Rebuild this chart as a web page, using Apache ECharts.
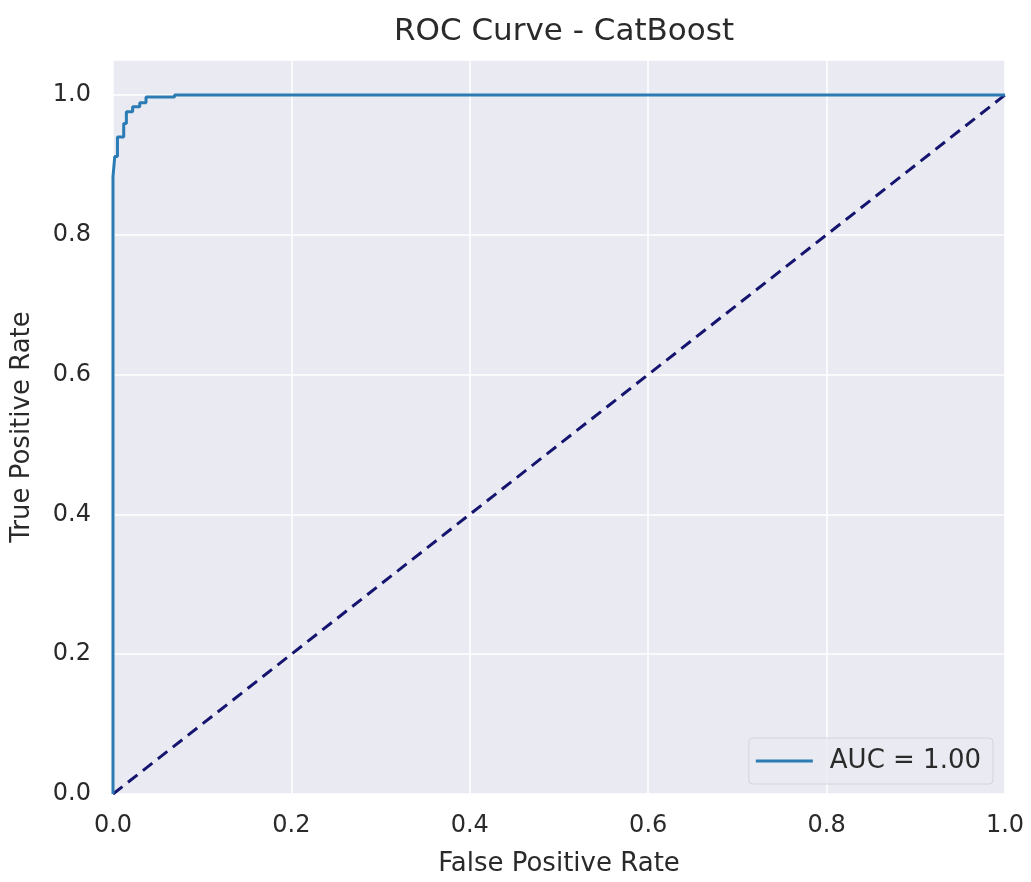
<!DOCTYPE html>
<html>
<head>
<meta charset="utf-8">
<script src="https://cdn.jsdelivr.net/npm/echarts@6/dist/echarts.min.js"></script>
<style>
  html, body { margin: 0; padding: 0; background: #fff; }
  #chart { width: 1031px; height: 882px; }
</style>
</head>
<body>
<div id="chart"></div>
<script>
// ROC points
var fpr = [0.000, 0.000, 0.002, 0.002, 0.005, 0.005, 0.009, 0.012, 0.012, 0.015, 0.015, 0.022, 0.022, 0.030, 0.030, 0.037, 0.037, 0.069, 0.069, 1.000];
var tpr = [0.000, 0.883, 0.883, 0.912, 0.912, 0.940, 0.940, 0.940, 0.959, 0.959, 0.976, 0.976, 0.983, 0.983, 0.989, 0.989, 0.997, 0.997, 1.000, 1.000];
var chanceX = [0, 1];
var chanceY = [0, 1];

var font = 'DejaVu Sans';
var ink = '#2a2a2a';

var chart = echarts.init(document.getElementById('chart'));
chart.setOption({
    backgroundColor: '#ffffff',
    animation: false,
    title: {
        text: 'ROC Curve - CatBoost',
        left: 559,
        top: 11,
        textAlign: 'center',
        textStyle: { fontFamily: font, fontSize: 31, fontWeight: 'normal', color: ink }
    },
    grid: {
        left: 113, right: 26, top: 60, bottom: 86,
        show: true, backgroundColor: '#eaeaf2', borderWidth: 0
    },
    legend: {
        right: 38, bottom: 98,
        orient: 'vertical',
        backgroundColor: 'rgba(234,234,242,0.85)',
        borderColor: '#d4d4dc', borderWidth: 1, borderRadius: 4,
        padding: [10, 12, 10, 7],
        itemWidth: 57, itemHeight: 3,
        icon: 'rect',
        textStyle: { fontFamily: font, fontSize: 26, color: ink, padding: [0, 0, 0, 12] },
        data: [{ name: 'AUC = 1.00', itemStyle: { color: '#2b7bb4' } }]
    },
    xAxis: {
        type: 'value', min: 0, max: 1, interval: 0.2,
        name: 'False Positive Rate', nameLocation: 'middle', nameGap: 57,
        nameTextStyle: { fontFamily: font, fontSize: 26, color: ink },
        axisLine: { show: false }, axisTick: { show: false },
        axisLabel: { fontFamily: font, fontSize: 24, color: ink, margin: 20,
            formatter: function (v) { return v.toFixed(1); } },
        splitLine: { show: true, lineStyle: { color: '#ffffff', width: 1.5 } }
    },
    yAxis: {
        type: 'value', min: 0, max: 1.05, interval: 0.2,
        name: 'True Positive Rate', nameLocation: 'middle', nameGap: 78,
        nameTextStyle: { fontFamily: font, fontSize: 26, color: ink },
        axisLine: { show: false }, axisTick: { show: false },
        axisLabel: { fontFamily: font, fontSize: 24, color: ink, margin: 22,
            showMaxLabel: false,
            formatter: function (v) { return v > 1.01 ? '' : v.toFixed(1); } },
        splitLine: { show: true, lineStyle: { color: '#ffffff', width: 1.5 } }
    },
    series: [
        {
            name: 'AUC = 1.00',
            type: 'line',
            data: fpr.map(function (x, i) { return [x, tpr[i]]; }),
            showSymbol: false,
            lineStyle: { color: '#2b7bb4', width: 3 },
            itemStyle: { color: '#2b7bb4' },
            z: 3
        },
        {
            name: 'chance',
            type: 'line',
            data: chanceX.map(function (x, i) { return [x, chanceY[i]]; }),
            showSymbol: false,
            lineStyle: { color: '#151570', width: 3, type: [12, 7] },
            z: 2
        }
    ]
});
</script>
</body>
</html>
